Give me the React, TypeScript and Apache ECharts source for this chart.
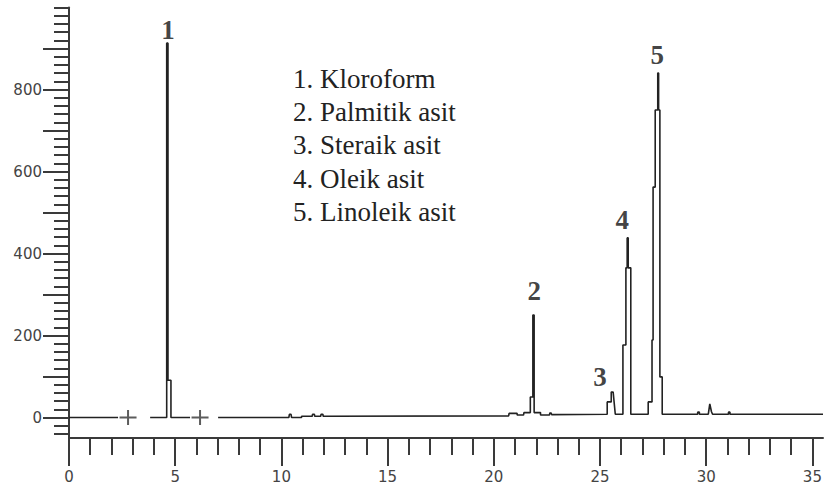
import React, { useEffect, useRef } from "react";
import * as echarts from "echarts";

// Chromatogram trace: retention time (min) and detector signal; null = gap in trace
const traceTime = [
  0, 2.31, null,
  3.82, 4.6, 4.6, 4.66, 4.66, 4.8, 4.8, 5.7, null,
  7.02, 10.35, 10.38, 10.45, 10.48, 10.95, 10.95, 11.45, 11.47, 11.55, 11.57, 11.85, 11.87, 11.95, 11.97,
  20.7, 20.72, 21.1, 21.1, 21.4, 21.42, 21.72, 21.72, 21.84, 21.84, 21.9, 21.9, 22.2, 22.2,
  22.62, 22.64, 22.7, 22.72,
  25.34, 25.34, 25.53, 25.53, 25.62, 25.72,
  26.08, 26.08, 26.22, 26.22, 26.28, 26.28, 26.33, 26.33, 26.45, 26.45,
  27.27, 27.27, 27.45, 27.45, 27.5, 27.5, 27.6, 27.6, 27.72, 27.72, 27.76, 27.76, 27.82, 27.82, 27.93, 27.93,
  29.6, 29.6, 29.68, 29.68, 30.1, 30.17, 30.25, 30.3, 31.05, 31.05, 31.12, 31.12, 35.5,
];
const traceSignal = [
  0, 0, null,
  0, 0, 913, 913, 91, 91, 0, 0, null,
  0, 0, 8, 8, 0, 0, 3, 3, 8, 8, 3, 3, 8, 8, 3,
  4, 10, 10, 6, 6, 12, 12, 50, 50, 250, 250, 12, 12, 6,
  6, 11, 11, 7,
  8, 38, 38, 62, 62, 8,
  8, 177, 177, 365, 365, 438, 438, 365, 365, 8,
  8, 38, 38, 189, 189, 562, 562, 750, 750, 840, 840, 750, 750, 99, 99, 8,
  8, 13, 13, 8, 8, 33, 14, 8, 8, 13, 13, 8, 8,
];

// Integration markers (+) on the baseline
const markerTimes = [2.78, 6.17];

// Peak numbers and their label anchor positions
const peakNames = ["1", "2", "3", "4", "5"];
const peakLabelTimes = [4.66, 21.9, 25.0, 26.05, 27.7];
const peakLabelSignals = [945, 308, 99, 482, 884];

// Legend-like compound list
const compoundNames = [
  "1. Kloroform",
  "2. Palmitik asit",
  "3. Steraik asit",
  "4. Oleik asit",
  "5. Linoleik asit",
];

// Axis ticks / labels
const xMajorTicks = [0, 5, 10, 15, 20, 25, 30, 35];
const xMinorTicks = [
  0, 1, 2, 3, 4, 5, 6, 7, 8, 9, 10, 11, 12, 13, 14, 15, 16, 17, 18, 19, 20,
  21, 22, 23, 24, 25, 26, 27, 28, 29, 30, 31, 32, 33, 34, 35,
];
const yLabelValues = [0, 200, 400, 600, 800];
const yMajorTicks = [0, 100, 200, 300, 400, 500, 600, 700, 800, 900];
const yMinorTicks = [
  -40, -20, 0, 20, 40, 60, 80, 100, 120, 140, 160, 180, 200, 220, 240, 260, 280,
  300, 320, 340, 360, 380, 400, 420, 440, 460, 480, 500, 520, 540, 560, 580, 600,
  620, 640, 660, 680, 700, 720, 740, 760, 780, 800, 820, 840, 860, 880, 900, 920,
  940, 960, 980, 1000,
];

const AXIS_COLOR = "#3a3a3a";
const X_MIN = 0;
const X_MAX = 35.5;
const Y_MIN = -50;
const Y_MAX = 1000;

export default function App() {
  const ref = useRef<HTMLDivElement>(null);

  useEffect(() => {
    document.body.style.margin = "0";
    const chart = echarts.init(ref.current!, null, { renderer: "svg" });

    const traceData = traceTime.map((t, i) =>
      t === null ? [null, null] : [t, traceSignal[i]]
    );
    const markerData = markerTimes.map((t) => [t, 0]);
    const labelData = peakNames.map((n, i) => ({
      name: n,
      value: [peakLabelTimes[i], peakLabelSignals[i]],
    }));

    const tickLabelStyle = {
      color: "#444",
      fontFamily: "DejaVu Sans",
      fontSize: 15,
    };

    chart.setOption({
      animation: false,
      backgroundColor: "#ffffff",
      grid: {
        left: 69,
        top: 7.5,
        width: 754,
        height: 430.5,
        containLabel: false,
        outerBoundsMode: "none",
      },
      xAxis: [
        {
          type: "value",
          min: X_MIN,
          max: X_MAX,
          position: "bottom",
          axisLine: { show: true, onZero: false, lineStyle: { color: AXIS_COLOR, width: 2 } },
          axisTick: {
            show: true,
            length: 17,
            customValues: xMinorTicks,
            lineStyle: { color: AXIS_COLOR, width: 2 },
          },
          axisLabel: { show: false },
          splitLine: { show: false },
        },
        {
          type: "value",
          min: X_MIN,
          max: X_MAX,
          position: "bottom",
          axisLine: { show: false, onZero: false },
          axisTick: {
            show: true,
            length: 28,
            customValues: xMajorTicks,
            lineStyle: { color: AXIS_COLOR, width: 2 },
          },
          axisLabel: {
            show: true,
            customValues: xMajorTicks,
            margin: 31,
            ...tickLabelStyle,
          },
          splitLine: { show: false },
        },
      ],
      yAxis: [
        {
          type: "value",
          min: Y_MIN,
          max: Y_MAX,
          position: "left",
          axisLine: { show: true, onZero: false, lineStyle: { color: AXIS_COLOR, width: 2 } },
          axisTick: {
            show: true,
            length: 15,
            customValues: yMinorTicks,
            lineStyle: { color: AXIS_COLOR, width: 2 },
          },
          axisLabel: { show: false },
          splitLine: { show: false },
        },
        {
          type: "value",
          min: Y_MIN,
          max: Y_MAX,
          position: "left",
          axisLine: { show: false, onZero: false },
          axisTick: {
            show: true,
            length: 26,
            customValues: yMajorTicks,
            lineStyle: { color: AXIS_COLOR, width: 2 },
          },
          axisLabel: {
            show: true,
            customValues: yLabelValues,
            margin: 27,
            ...tickLabelStyle,
          },
          splitLine: { show: false },
        },
      ],
      series: [
        {
          type: "line",
          name: "trace",
          xAxisIndex: 0,
          yAxisIndex: 0,
          data: traceData,
          showSymbol: false,
          connectNulls: false,
          lineStyle: { color: "#222", width: 1.6 },
          z: 3,
        },
        {
          type: "scatter",
          name: "markers",
          xAxisIndex: 0,
          yAxisIndex: 0,
          data: markerData,
          symbol: "path://M7.5,0H9.5V6.5H17V8.5H9.5V15H7.5V8.5H0V6.5H7.5Z",
          symbolSize: [17, 15],
          itemStyle: { color: "#333" },
          z: 4,
        },
        {
          type: "scatter",
          name: "peakLabels",
          xAxisIndex: 0,
          yAxisIndex: 0,
          data: labelData,
          symbolSize: 0,
          label: {
            show: true,
            position: "inside",
            formatter: "{b}",
            color: "#111",
            fontFamily: "Liberation Serif",
            fontWeight: "bold",
            fontSize: 27,
          },
          z: 5,
        },
      ],
      graphic: compoundNames.map((name, i) => ({
        type: "text",
        left: 293,
        top: 80 + i * 33.4 - 15,
        style: {
          text: name,
          font: '27px "Liberation Serif"',
          fill: "#222",
        },
      })),
    });

    return () => chart.dispose();
  }, []);

  return <div ref={ref} style={{ width: 824, height: 488 }} />;
}
